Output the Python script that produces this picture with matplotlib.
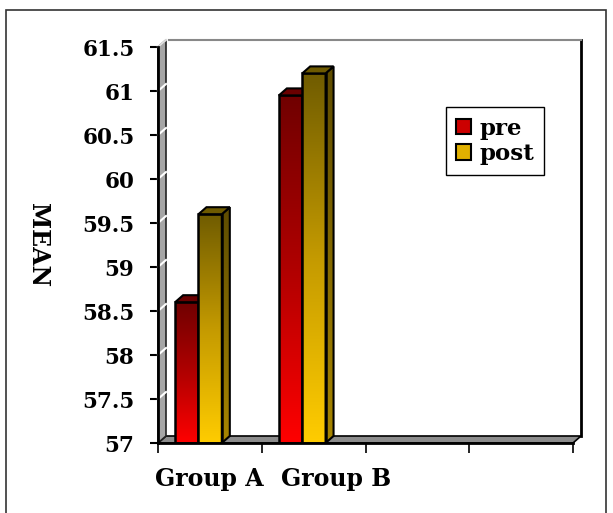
import numpy as np
import matplotlib
matplotlib.use("Agg")
import matplotlib.pyplot as plt
from matplotlib.colors import LinearSegmentedColormap
from matplotlib.patches import Polygon, Patch, Rectangle

# =========================
# DATA
# =========================
groups = ["Group A", "Group B"]
pre = [58.6, 60.95]
post = [59.6, 61.2]
n_slots = 4
y_min, y_max = 57, 61.5
y_ticks = [57, 57.5, 58, 58.5, 59, 59.5, 60, 60.5, 61, 61.5]
y_ticklabels = ["57", "57.5", "58", "58.5", "59", "59.5", "60", "60.5", "61", "61.5"]

# =========================
# FIGURE
# =========================
W, H = 613, 513
fig = plt.figure(figsize=(W / 100, H / 100), dpi=100)
fig.patch.set_facecolor("white")

# outer frame
fig.add_artist(Rectangle((6 / W, -0.05), (606 - 6) / W, 1.05 - 10 / H,
                         transform=fig.transFigure, fill=False,
                         edgecolor="#333333", linewidth=1.2))

ax_l, ax_r, ax_b, ax_t = 158, 573, 443, 47
ax = fig.add_axes([ax_l / W, 1 - ax_b / H, (ax_r - ax_l) / W, (ax_b - ax_t) / H])
ax.set_xlim(0, n_slots)
ax.set_ylim(y_min, y_max)
ax.set_facecolor("none")

# depth offset of the pseudo 3d look (8 px right, 7 px up)
px_x = n_slots / (ax_r - ax_l)
px_y = (y_max - y_min) / (ax_b - ax_t)
dx, dy = 8 * px_x, 7 * px_y

# back wall, floor and side wall
ax.add_patch(Polygon([(dx, y_min + dy), (n_slots + dx, y_min + dy),
                      (n_slots + dx, y_max + dy), (dx, y_max + dy)],
                     closed=True, facecolor="white", edgecolor="none",
                     zorder=0, clip_on=False))
ax.plot([n_slots + dx, n_slots + dx], [y_min + dy, y_max + dy], color="black",
        lw=2, clip_on=False, zorder=1)
ax.plot([dx + 3 * px_x, n_slots + dx], [y_max + dy, y_max + dy], color="#888888",
        lw=1.5, clip_on=False, zorder=1)
ax.add_patch(Polygon([(0, y_min), (n_slots, y_min), (n_slots + dx, y_min + dy),
                      (dx, y_min + dy)], closed=True, facecolor="#8c8c8c",
                     edgecolor="black", lw=1.2, zorder=2, clip_on=False))
ax.add_patch(Polygon([(0, y_min), (0, y_max), (dx, y_max + dy), (dx, y_min + dy)],
                     closed=True, facecolor="#a6a6a6", edgecolor="#222222",
                     lw=1.2, zorder=2, clip_on=False))
ax.plot([0, dx], [y_max, y_max + dy], color="#dddddd", lw=1.5, zorder=2,
        clip_on=False)
for yt in y_ticks[1:-1]:
    ax.plot([0, dx], [yt, yt + dy], color="white", lw=1.5, zorder=3,
            clip_on=False)

pre_cmap = LinearSegmentedColormap.from_list("pre", ["#ff0000", "#b00000", "#700000"])
post_cmap = LinearSegmentedColormap.from_list("post", ["#ffcc00", "#c49a00", "#705c00"])
post_side = LinearSegmentedColormap.from_list("post_side", ["#a88600", "#5e4c00"])
grad = np.linspace(0, 1, 256).reshape(-1, 1)

bar_w = 0.225
offsets = [0.165, 0.39]


def draw_bar(x0, top, cmap, top_color, side_cmap=None, z=5):
    # front face with vertical gradient
    im = ax.imshow(grad, cmap=cmap, origin="lower", aspect="auto",
                   extent=[x0, x0 + bar_w, y_min, top], zorder=z)
    face = Rectangle((x0, y_min), bar_w, top - y_min, facecolor="none",
                     edgecolor="black", lw=1.8, zorder=z + 0.5)
    ax.add_patch(face)
    im.set_clip_path(face)
    # right side face
    if side_cmap is not None:
        side = Polygon([(x0 + bar_w, y_min), (x0 + bar_w + dx, y_min + dy),
                        (x0 + bar_w + dx, top + dy), (x0 + bar_w, top)],
                       closed=True, facecolor="none", edgecolor="black",
                       lw=1.5, zorder=z + 0.5, clip_on=False)
        ax.add_patch(side)
        ims = ax.imshow(grad, cmap=side_cmap, origin="lower", aspect="auto",
                        extent=[x0 + bar_w, x0 + bar_w + dx, y_min, top + dy],
                        zorder=z)
        ims.set_clip_path(side)
    # top face
    ax.add_patch(Polygon([(x0, top), (x0 + bar_w, top), (x0 + bar_w + dx, top + dy),
                          (x0 + dx, top + dy)], closed=True, facecolor=top_color,
                         edgecolor="black", lw=1.5, zorder=z + 0.5, clip_on=False))


for i in range(len(groups)):
    draw_bar(i + offsets[0], pre[i], pre_cmap, "#6a0000", side_cmap=None, z=5)
    draw_bar(i + offsets[1], post[i], post_cmap, "#6e5a00", side_cmap=post_side, z=7)

ax.set_xlim(0, n_slots)
ax.set_ylim(y_min, y_max)

# =========================
# AXES
# =========================
for s in ["top", "right"]:
    ax.spines[s].set_visible(False)
for s in ["left", "bottom"]:
    ax.spines[s].set_linewidth(2)
    ax.spines[s].set_zorder(10)

ytick_font = dict(family="DejaVu Serif", weight="bold", size=15.5)
xtick_font = dict(family="DejaVu Serif", weight="bold", size=17)

ax.set_yticks(y_ticks)
ax.set_yticklabels(y_ticklabels, fontdict=ytick_font)
ax.tick_params(axis="y", direction="out", length=6, width=1.5, pad=11)

ax.set_xticks(range(n_slots + 1))
ax.set_xticklabels([])
ax.set_xticks([0.49, 1.72], minor=True)
ax.set_xticklabels(groups, minor=True, fontdict=xtick_font)
ax.tick_params(axis="x", which="major", direction="out", length=7, width=1.2)
ax.tick_params(axis="x", which="minor", length=0, pad=17)

fig.text(38 / W, 1 - 245 / H, "MEAN", rotation=-90, ha="center", va="center",
         fontdict=dict(family="DejaVu Serif", weight="bold", size=17))

handles = [Patch(facecolor="#cc0000", edgecolor="black", lw=1.5, label="pre"),
           Patch(facecolor="#e0b000", edgecolor="black", lw=1.5, label="post")]
leg = ax.legend(handles=handles, loc="upper left", bbox_to_anchor=(0.694, 0.848),
                borderaxespad=0,
                prop=dict(family="DejaVu Serif", weight="bold", size=16.5),
                frameon=True, fancybox=False, framealpha=1, edgecolor="black",
                handlelength=0.65, handleheight=0.65, handletextpad=0.35,
                labelspacing=0.15, borderpad=0.45)
leg.get_frame().set_linewidth(1.0)
leg.set_zorder(20)

plt.savefig("out.png", dpi=100)
